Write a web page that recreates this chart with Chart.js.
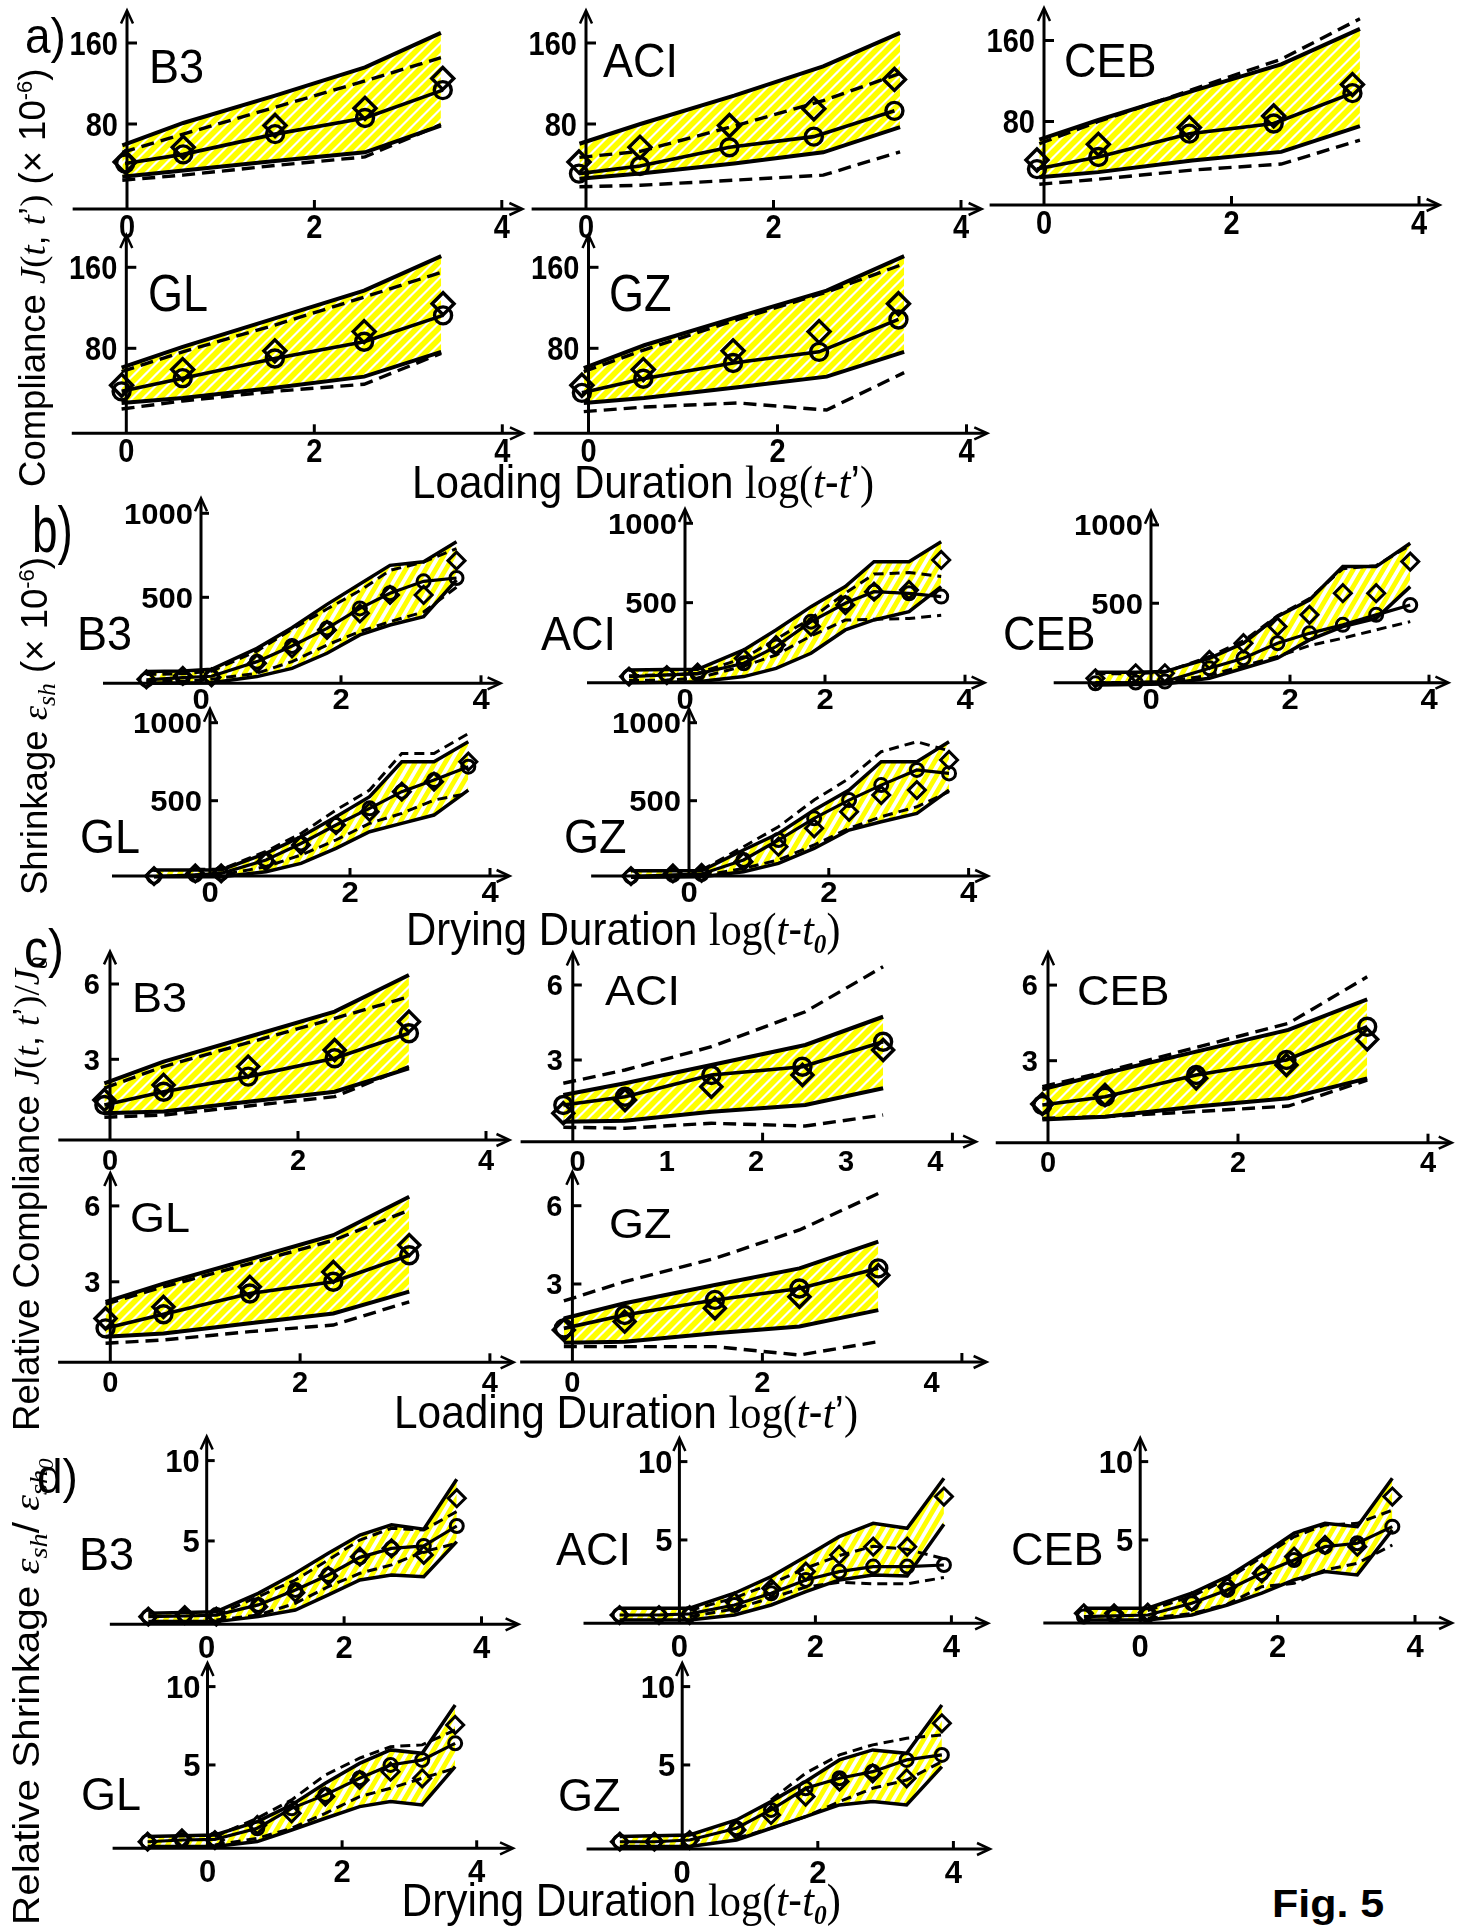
<!DOCTYPE html>
<html><head><meta charset="utf-8">
<script src="https://cdn.jsdelivr.net/npm/chart.js@4.4.1/dist/chart.umd.min.js"></script>
<style>
html,body{margin:0;padding:0;background:#fff;}
#root{position:relative;width:1457px;height:1929px;overflow:hidden;background:#fff;}
#root canvas{position:absolute;}
.t{position:absolute;left:0;top:0;white-space:nowrap;transform-origin:0 0;color:#000;font-family:'Liberation Sans',Arial,sans-serif;z-index:5;}
.s{font-family:'Liberation Serif','Times New Roman',serif;}
.i{font-family:'Liberation Serif','Times New Roman',serif;font-style:italic;}
</style></head><body><div id="root"></div>
<script>
// ================= DATA =================
// (a) Compliance J(t,t') (x10^-6) vs loading duration log(t-t')
const aB3_x = [-0.05, 0.6, 1.58, 2.54, 3.35];
const aB3_mx = [-0.02, 0.6, 1.58, 2.54, 3.37];
const aB3_hi = [59, 81, 108, 136, 170];
const aB3_lo = [28, 34, 43.5, 52, 78.5];
const aB3_dhi = [52, 70, 96.5, 122.5, 145.5];
const aB3_dlo = [24.5, 29.5, 39, 47.5, 79.5];
const aB3_circ = [41, 50, 70, 86, 113.5];
const aB3_diam = [42.5, 57, 78.5, 95.5, 125];

const aACI_x = [-0.07, 0.58, 1.58, 2.53, 3.35];
const aACI_mx = [-0.075, 0.576, 1.53, 2.43, 3.29];
const aACI_hi = [60.5, 80, 108, 137, 170];
const aACI_lo = [26, 31, 41, 52, 77];
const aACI_dhi = [47, 53, 78, 103, 130];
const aACI_dlo = [18, 19.5, 24.5, 29.5, 52.5];
const aACI_circ = [31, 38.5, 57, 67.5, 93];
const aACI_diam = [42.5, 57, 78.5, 95, 124];

const aCEB_x = [-0.05, 0.58, 1.58, 2.53, 3.37];
const aCEB_mx = [-0.075, 0.58, 1.55, 2.45, 3.29];
const aCEB_hi = [62, 81.5, 110, 136.5, 171.5];
const aCEB_lo = [25, 30, 41.5, 50, 75.5];
const aCEB_dhi = [58, 80, 111.5, 141.5, 181.5];
const aCEB_dlo = [18, 23, 32, 38, 61.5];
const aCEB_circ = [33, 45, 68, 78, 108];
const aCEB_diam = [42, 57.5, 74, 85.5, 116.5];

const aGL_x = [-0.05, 0.6, 1.58, 2.53, 3.35];
const aGL_mx = [-0.05, 0.6, 1.58, 2.53, 3.37];
const aGL_hi = [61, 81.5, 109.5, 137, 171];
const aGL_lo = [26, 31, 41, 52, 76.5];
const aGL_dhi = [57, 76.5, 103, 130.5, 155];
const aGL_dlo = [20, 28, 37.5, 44.5, 75];
const aGL_circ = [37.5, 50.5, 70, 86.5, 112.5];
const aGL_diam = [43.5, 59, 77.5, 96.5, 124];

const aGZ_x = [-0.05, 0.59, 1.58, 2.52, 3.34];
const aGZ_mx = [-0.07, 0.58, 1.53, 2.44, 3.28];
const aGZ_hi = [60.5, 83, 111, 137, 171];
const aGZ_lo = [26, 31, 41.5, 52, 76.5];
const aGZ_dhi = [57, 78.5, 108.5, 135.5, 163.5];
const aGZ_dlo = [17.5, 22, 26, 19, 56];
const aGZ_circ = [36, 50, 65.5, 76.5, 108.5];
const aGZ_diam = [43.5, 59, 77.5, 96.5, 124];

// (b) Shrinkage eps_sh (x10^-6) vs drying duration log(t-t0)
const bB3_x = [-0.78, -0.26, 0.15, 0.8, 1.3, 1.8, 2.27, 2.7, 3.18, 3.65];
const bB3_hi = [58, 62, 71, 196, 319, 458, 579, 690, 712, 831];
const bB3_lo = [-12, -10, -8, 28, 77, 167, 276, 335, 385, 603];
const bB3_dhi = [40, 45, 60, 180, 310, 430, 540, 660, 710, 790];
const bB3_dlo = [0, 0, 12, 48, 117, 216, 296, 355, 413, 560];
const bB3_circ = [8, 22, 30, 117, 210, 315, 434, 524, 595, 615];
const bB3_diam = [12, 32, 24, 107, 196, 306, 405, 514, 514, 718];

const bACI_x = [-0.8, -0.26, 0.18, 0.84, 1.3, 1.8, 2.29, 2.7, 3.2, 3.66];
const bACI_hi = [76, 78, 80, 202, 328, 475, 601, 758, 758, 884];
const bACI_lo = [-4, -2, 2, 34, 86, 181, 328, 391, 443, 601];
const bACI_dhi = [40, 45, 55, 150, 270, 400, 560, 680, 690, 665];
const bACI_dlo = [10, 12, 25, 100, 170, 290, 390, 395, 400, 420];
const bACI_circ = [34, 44, 51, 118, 223, 380, 496, 569, 559, 538];
const bACI_diam = [34, 44, 59, 149, 233, 349, 485, 569, 580, 769];

const bCEB_x = [-0.8, -0.22, 0.2, 0.84, 1.33, 1.82, 2.28, 2.76, 3.24, 3.73];
const bCEB_hi = [60, 60, 64, 149, 245, 415, 521, 734, 734, 883];
const bCEB_lo = [-21, -18, -15, 21, 85, 149, 266, 351, 404, 606];
const bCEB_dhi = [50, 50, 60, 160, 260, 420, 530, 720, 740, 870];
const bCEB_dlo = [-5, -5, 0, 40, 100, 160, 230, 277, 330, 383];
const bCEB_circ = [-11, -6, 0, 85, 149, 245, 308, 362, 426, 489];
const bCEB_diam = [21, 53, 53, 138, 245, 351, 426, 564, 564, 766];

const bGL_x = [-0.8, -0.21, 0.16, 0.8, 1.3, 1.8, 2.28, 2.74, 3.2, 3.69];
const bGL_hi = [56, 56, 56, 162, 269, 397, 526, 750, 750, 878];
const bGL_lo = [13, 13, 13, 45, 98, 194, 301, 355, 408, 568];
const bGL_dhi = [null, 60, 60, 175, 290, 440, 568, 803, 803, 930];
const bGL_dlo = [null, 24, 24, 77, 152, 248, 355, 419, 504, 547];
const bGL_circ = [13, 24, 34, 120, 226, 344, 451, 558, 632, 718];
const bGL_diam = [17, 34, 34, 109, 216, 344, 429, 558, 622, 750];

const bGZ_x = [-0.83, -0.23, 0.18, 0.78, 1.28, 1.79, 2.29, 2.75, 3.26, 3.72];
const bGZ_hi = [51, 51, 51, 184, 290, 440, 568, 750, 750, 878];
const bGZ_lo = [9, 11, 13, 45, 98, 194, 312, 365, 419, 568];
const bGZ_dhi = [null, null, 55, 205, 333, 504, 643, 814, 878, 820];
const bGZ_dlo = [null, null, 20, 66, 120, 216, 323, 397, 461, 558];
const bGZ_circ = [13, 24, 30, 120, 248, 387, 504, 600, 697, 675];
const bGZ_diam = [17, 34, 38, 109, 205, 323, 429, 536, 568, 761];

// (c) Relative compliance J(t,t')/J0 vs loading duration
const cB3_x = [-0.06, 0.57, 1.47, 2.39, 3.18];
const cB3_hi = [2.04, 2.91, 3.89, 4.9, 6.36];
const cB3_lo = [0.85, 0.92, 1.31, 1.71, 2.64];
const cB3_dhi = [1.85, 2.71, 3.66, 4.63, 5.49];
const cB3_dlo = [0.69, 0.78, 1.14, 1.51, 2.71];
const cB3_circ = [1.18, 1.71, 2.31, 3.04, 4.04];
const cB3_diam = [1.38, 1.98, 2.71, 3.37, 4.5];

const cACI_x = [-0.1, 0.55, 1.46, 2.45, 3.27];
const cACI_mx = [-0.1, 0.55, 1.46, 2.42, 3.27];
const cACI_hi = [1.6, 2.07, 2.8, 3.6, 4.73];
const cACI_lo = [0.53, 0.57, 0.93, 1.2, 1.87];
const cACI_dhi = [2.07, 2.6, 3.53, 4.93, 6.73];
const cACI_dlo = [0.31, 0.27, 0.47, 0.36, 0.8];
const cACI_circ = [1.2, 1.53, 2.4, 2.73, 3.73];
const cACI_diam = [0.87, 1.4, 1.93, 2.4, 3.4];

const cCEB_x = [-0.06, 0.6, 1.56, 2.53, 3.36];
const cCEB_mx = [-0.06, 0.6, 1.56, 2.51, 3.36];
const cCEB_hi = [1.86, 2.5, 3.36, 4.22, 5.43];
const cCEB_lo = [0.67, 0.78, 1.18, 1.51, 2.3];
const cCEB_dhi = [1.97, 2.56, 3.53, 4.48, 6.33];
const cCEB_dlo = [0.71, 0.78, 0.98, 1.2, 2.23];
const cCEB_circ = [1.24, 1.57, 2.43, 3.03, 4.35];
const cCEB_diam = [1.28, 1.64, 2.3, 2.83, 3.85];

const cGL_x = [-0.05, 0.56, 1.47, 2.35, 3.15];
const cGL_hi = [2.21, 2.93, 3.89, 4.84, 6.36];
const cGL_lo = [0.83, 0.96, 1.36, 1.75, 2.61];
const cGL_dhi = [2.12, 2.8, 3.72, 4.64, 5.83];
const cGL_dlo = [0.57, 0.7, 1.03, 1.29, 2.21];
const cGL_circ = [1.16, 1.72, 2.54, 3.0, 4.05];
const cGL_diam = [1.55, 2.01, 2.8, 3.39, 4.45];

const cGZ_x = [-0.09, 0.55, 1.5, 2.39, 3.22];
const cGZ_hi = [1.68, 2.26, 2.96, 3.6, 4.62];
const cGZ_lo = [0.75, 0.79, 1.11, 1.37, 2.0];
const cGZ_dhi = [2.35, 3.09, 3.98, 5.07, 6.47];
const cGZ_dlo = [0.6, 0.6, 0.6, 0.28, 0.79];
const cGZ_circ = [1.3, 1.81, 2.39, 2.83, 3.6];
const cGZ_diam = [1.24, 1.56, 2.07, 2.51, 3.34];

// (d) Relative shrinkage eps_sh/eps_sh0 vs drying duration
const dB3_x = [-0.85, -0.32, 0.14, 0.75, 1.29, 1.77, 2.23, 2.69, 3.16, 3.64];
const dB3_hi = [0.5, 0.55, 0.6, 1.74, 2.99, 4.23, 5.37, 6.0, 5.73, 8.84];
const dB3_lo = [-0.02, -0.02, -0.02, 0.29, 0.7, 1.64, 2.57, 2.88, 2.78, 4.96];
const dB3_dhi = [null, null, 0.39, 1.53, 2.57, 3.82, 5.06, 5.79, 5.68, 6.83];
const dB3_dlo = [null, null, 0.08, 0.39, 1.12, 2.16, 2.99, 3.51, 4.34, 4.85];
const dB3_circ = [0.29, 0.33, 0.39, 1.02, 1.95, 2.88, 3.98, 4.54, 4.69, 5.93];
const dB3_diam = [0.29, 0.39, 0.29, 0.91, 1.78, 2.82, 4.02, 4.54, 4.13, 7.66];

const dACI_x = [-0.88, -0.3, 0.15, 0.81, 1.35, 1.86, 2.35, 2.85, 3.35, 3.89];
const dACI_hi = [0.64, 0.64, 0.64, 1.6, 2.66, 3.94, 5.21, 6.06, 5.74, 8.94];
const dACI_lo = [-0.11, -0.11, -0.11, 0.21, 0.85, 1.7, 2.45, 2.77, 2.7, 6.0];
const dACI_dhi = [null, null, 0.5, 1.3, 2.2, 3.2, 4.0, 4.6, 4.4, 3.8];
const dACI_dlo = [null, null, 0.1, 0.6, 1.3, 2.0, 2.3, 2.2, 2.2, 2.6];
const dACI_circ = [0.21, 0.21, 0.28, 0.85, 1.6, 2.45, 2.98, 3.3, 3.3, 3.4];
const dACI_diam = [0.21, 0.21, 0.21, 1.06, 1.91, 2.98, 4.04, 4.57, 4.57, 7.77];

const dCEB_x = [-0.82, -0.38, 0.11, 0.75, 1.27, 1.77, 2.24, 2.69, 3.16, 3.67];
const dCEB_hi = [0.64, 0.64, 0.64, 1.6, 2.66, 4.04, 5.43, 6.06, 5.85, 8.94];
const dCEB_lo = [-0.11, -0.11, -0.11, 0.21, 0.85, 1.6, 2.45, 2.98, 2.77, 5.64];
const dCEB_dhi = [null, null, 0.5, 1.4, 2.5, 3.9, 5.2, 5.96, 6.06, 6.9];
const dCEB_dlo = [null, null, 0.0, 0.3, 0.9, 2.02, 2.23, 3.09, 3.51, 4.68];
const dCEB_circ = [0.11, 0.15, 0.21, 0.96, 1.81, 2.87, 3.72, 4.57, 4.79, 5.85];
const dCEB_diam = [0.32, 0.32, 0.36, 1.06, 2.02, 2.87, 3.94, 4.68, 4.57, 7.77];

const dGL_x = [-0.89, -0.38, 0.11, 0.74, 1.25, 1.75, 2.26, 2.72, 3.19, 3.68];
const dGL_hi = [0.43, 0.48, 0.53, 1.38, 2.45, 3.83, 5.1, 5.96, 5.74, 8.83];
const dGL_lo = [-0.21, -0.21, -0.21, 0.11, 0.85, 1.6, 2.34, 2.66, 2.45, 4.89];
const dGL_dhi = [null, null, 0.43, 1.6, 2.77, 4.36, 5.43, 6.17, 6.28, 7.23];
const dGL_dlo = [null, null, -0.1, 0.32, 0.96, 1.91, 2.98, 3.51, 4.15, 4.79];
const dGL_circ = [0.1, 0.21, 0.25, 0.96, 2.23, 3.09, 4.15, 5.0, 5.32, 6.38];
const dGL_diam = [0.1, 0.32, 0.21, 1.17, 1.91, 2.98, 4.04, 4.57, 4.15, 7.55];

const dGZ_x = [-0.92, -0.41, 0.11, 0.8, 1.31, 1.82, 2.32, 2.81, 3.31, 3.83];
const dGZ_hi = [0.43, 0.48, 0.53, 1.49, 2.66, 3.94, 5.32, 5.96, 5.74, 8.83];
const dGZ_lo = [-0.21, -0.21, -0.21, 0.21, 0.96, 1.7, 2.45, 2.66, 2.45, 4.89];
const dGZ_dhi = [null, null, null, null, 2.77, 4.47, 5.64, 6.28, 6.7, 6.91];
const dGZ_dlo = [null, null, null, 0.32, 0.96, 1.7, 2.66, 3.51, 4.04, 5.21];
const dGZ_circ = [0.1, 0.1, 0.21, 0.96, 2.13, 3.51, 4.15, 4.57, 5.32, 5.64];
const dGZ_diam = [0.1, 0.1, 0.21, 0.85, 1.81, 2.98, 3.94, 4.47, 4.15, 7.66];

// tick values / labels
const aYTicks = [80, 160], bYTicks = [500, 1000], cYTicks = [3, 6], dYTicks = [5, 10];
const xTickVals = [2, 4];
const xLabelVals = [0, 2, 4];
const xLabelTexts = ['0', '2', '4'];
const cACI_xLabelTexts = ['0', '1', '2', '3', '4'];
const cACI_xLabelVals = [0.05, 0.99, 1.93, 2.88, 3.82];
const cGZ_xLabelVals = [0, 2, 3.78];

// ================= STYLES / LAYOUT =================
const SEC = {
  a: {xStart:-0.58, xEnd:4.22, yTop:192, yTicks:aYTicks, font:29, sy:1.15, xLabOff:5, yLabGap:9, yTickLen:10, xTickLen:9,
      lwB:4, lwC:3.6, lwD:3.4, dash:[13,7], rC:8.5, rD:11, mbw:3.4, pat:[11,11,5.6], nameSy:1.08},
  b: {xStart:-1.4, xEnd:4.28, yTop:1090, yTicks:bYTicks, font:31, sy:0.95, xLabOff:5, yLabGap:8, yTickLen:8, xTickLen:8,
      lwB:3.5, lwC:3.2, lwD:3, dash:[10,6], rC:6.5, rD:8.5, mbw:3, pat:[10,17,4.8], nameSy:1.05},
  c: {xStart:-0.55, xEnd:4.25, yTop:7.3, yTicks:cYTicks, font:29, sy:1.0, xLabOff:9, yLabGap:10, yTickLen:9, xTickLen:9,
      lwB:4, lwC:3.6, lwD:3.4, dash:[13,7], rC:8.5, rD:10.5, mbw:3.4, pat:[11,11,5.6], nameSy:0.93},
  d: {xStart:-1.41, xEnd:4.54, yTop:11.5, yTicks:dYTicks, font:31, sy:1.0, xLabOff:12, yLabGap:7, yTickLen:8, xTickLen:8,
      lwB:3.5, lwC:3.2, lwD:3, dash:[10,6], rC:6.5, rD:8.5, mbw:3, pat:[10,17,4.8], nameSy:1.02}
};

const panels = [
  {sec:'a', name:'B3', nx:149, nb:83, ox:127, oy:205, ux:93.7, uy:1.0125, ay:209, x:aB3_x, mx:aB3_mx, hi:aB3_hi, lo:aB3_lo, dhi:aB3_dhi, dlo:aB3_dlo, circ:aB3_circ, diam:aB3_diam},
  {sec:'a', name:'ACI', nx:603, nb:77, ox:586, oy:205, ux:93.75, uy:1.0125, ay:209, x:aACI_x, mx:aACI_mx, hi:aACI_hi, lo:aACI_lo, dhi:aACI_dhi, dlo:aACI_dlo, circ:aACI_circ, diam:aACI_diam},
  {sec:'a', name:'CEB', nx:1064, nb:77, ox:1044, oy:202.5, ux:93.75, uy:1.0125, ay:205, x:aCEB_x, mx:aCEB_mx, hi:aCEB_hi, lo:aCEB_lo, dhi:aCEB_dhi, dlo:aCEB_dlo, circ:aCEB_circ, diam:aCEB_diam},
  {sec:'a', name:'GL', nx:148, nb:311, nsy:1.15, ox:126.3, oy:429.3, ux:94, uy:1.0125, ay:433.3, x:aGL_x, mx:aGL_mx, hi:aGL_hi, lo:aGL_lo, dhi:aGL_dhi, dlo:aGL_dlo, circ:aGL_circ, diam:aGL_diam},
  {sec:'a', name:'GZ', nx:609, nb:311, nsy:1.15, ox:588.5, oy:429.3, ux:94.5, uy:1.0125, ay:433.3, x:aGZ_x, mx:aGZ_mx, hi:aGZ_hi, lo:aGZ_lo, dhi:aGZ_dhi, dlo:aGZ_dlo, circ:aGZ_circ, diam:aGZ_diam},

  {sec:'b', name:'B3', nx:77, nb:650, ox:201, oy:681.3, ux:70, uy:0.168, ay:683.3, x:bB3_x, hi:bB3_hi, lo:bB3_lo, dhi:bB3_dhi, dlo:bB3_dlo, circ:bB3_circ, diam:bB3_diam},
  {sec:'b', name:'ACI', nx:541, nb:650, ox:685, oy:682, ux:70, uy:0.1587, ay:682.7, x:bACI_x, hi:bACI_hi, lo:bACI_lo, dhi:bACI_dhi, dlo:bACI_dlo, circ:bACI_circ, diam:bACI_diam},
  {sec:'b', name:'CEB', nx:1003, nb:650, ox:1151, oy:681.6, ux:69.5, uy:0.1567, ay:682.7, x:bCEB_x, hi:bCEB_hi, lo:bCEB_lo, dhi:bCEB_dhi, dlo:bCEB_dlo, circ:bCEB_circ, diam:bCEB_diam},
  {sec:'b', name:'GL', nx:80, nb:853, ox:210, oy:878.7, ux:70, uy:0.156, ay:876, x:bGL_x, hi:bGL_hi, lo:bGL_lo, dhi:bGL_dhi, dlo:bGL_dlo, circ:bGL_circ, diam:bGL_diam},
  {sec:'b', name:'GZ', nx:564, nb:853, ox:689, oy:878.7, ux:69.9, uy:0.156, ay:876, x:bGZ_x, hi:bGZ_hi, lo:bGZ_lo, dhi:bGZ_dhi, dlo:bGZ_dlo, circ:bGZ_circ, diam:bGZ_diam},

  {sec:'c', name:'B3', nx:132, nb:1012, ox:110, oy:1134.6, ux:94, uy:25.1, ay:1140, x:cB3_x, hi:cB3_hi, lo:cB3_lo, dhi:cB3_dhi, dlo:cB3_dlo, circ:cB3_circ, diam:cB3_diam},
  {sec:'c', name:'ACI', nx:605, nb:1005, ox:572.8, oy:1135, ux:94.9, uy:25, ay:1141.7, x:cACI_x, mx:cACI_mx, hi:cACI_hi, lo:cACI_lo, dhi:cACI_dhi, dlo:cACI_dlo, circ:cACI_circ, diam:cACI_diam, xLabels:cACI_xLabelTexts, xLabelVals:cACI_xLabelVals},
  {sec:'c', name:'CEB', nx:1077, nb:1005, ox:1048, oy:1136.3, ux:95, uy:25.2, ay:1142.7, x:cCEB_x, mx:cCEB_mx, hi:cCEB_hi, lo:cCEB_lo, dhi:cCEB_dhi, dlo:cCEB_dlo, circ:cCEB_circ, diam:cCEB_diam},
  {sec:'c', name:'GL', nx:130, nb:1232, ox:110.3, oy:1357.7, ux:94.9, uy:25.3, ay:1362.3, x:cGL_x, hi:cGL_hi, lo:cGL_lo, dhi:cGL_dhi, dlo:cGL_dlo, circ:cGL_circ, diam:cGL_diam},
  {sec:'c', name:'GZ', nx:609, nb:1238, ox:572.4, oy:1362.3, ux:95, uy:26.1, ay:1362, x:cGZ_x, hi:cGZ_hi, lo:cGZ_lo, dhi:cGZ_dhi, dlo:cGZ_dlo, circ:cGZ_circ, diam:cGZ_diam, xLabelVals:cGZ_xLabelVals, xTicks:[2, 4.1], xEnd:4.36},

  {sec:'d', name:'B3', nx:79, nb:1570, ox:206.7, oy:1621.3, ux:68.7, uy:16.07, ay:1624.3, x:dB3_x, hi:dB3_hi, lo:dB3_lo, dhi:dB3_dhi, dlo:dB3_dlo, circ:dB3_circ, diam:dB3_diam},
  {sec:'d', name:'ACI', nx:556, nb:1565, ox:679.4, oy:1618.3, ux:68, uy:15.67, ay:1623.3, x:dACI_x, hi:dACI_hi, lo:dACI_lo, dhi:dACI_dhi, dlo:dACI_dlo, circ:dACI_circ, diam:dACI_diam},
  {sec:'d', name:'CEB', nx:1011, nb:1565, ox:1140.2, oy:1618.3, ux:68.7, uy:15.67, ay:1623, x:dCEB_x, hi:dCEB_hi, lo:dCEB_lo, dhi:dCEB_dhi, dlo:dCEB_dlo, circ:dCEB_circ, diam:dCEB_diam},
  {sec:'d', name:'GL', nx:81, nb:1810, ox:207.5, oy:1843.3, ux:67.3, uy:15.67, ay:1848.3, x:dGL_x, hi:dGL_hi, lo:dGL_lo, dhi:dGL_dhi, dlo:dGL_dlo, circ:dGL_circ, diam:dGL_diam},
  {sec:'d', name:'GZ', nx:558, nb:1811, ox:682.2, oy:1843.3, ux:67.8, uy:15.67, ay:1849, x:dGZ_x, hi:dGZ_hi, lo:dGZ_lo, dhi:dGZ_dhi, dlo:dGZ_dlo, circ:dGZ_circ, diam:dGZ_diam}
];

// ================= HELPERS =================
const root = document.getElementById('root');
const SANS = "'Liberation Sans', Arial, sans-serif";

function addText(html, x, base, size, o) {
  o = o || {};
  const d = document.createElement('div');
  d.className = 't'; d.innerHTML = html;
  d.style.fontSize = size + 'px'; d.style.lineHeight = size + 'px';
  if (o.weight) d.style.fontWeight = o.weight;
  root.appendChild(d);
  const w = d.offsetWidth;
  const sx = o.width ? o.width / w : (o.sx || 1), sy = o.sy || 1;
  let left = x;
  if (o.align === 'center') left = x - w * sx / 2;
  const top = base - 0.8465 * size * sy;
  d.style.transform = 'translate(' + left + 'px,' + top + 'px) scale(' + sx + ',' + sy + ')';
  return d;
}
function addVText(html, cx, cy, size, len, o) {
  o = o || {};
  const d = document.createElement('div');
  d.className = 't'; d.innerHTML = html;
  d.style.fontSize = size + 'px'; d.style.lineHeight = size + 'px';
  root.appendChild(d);
  const w = d.offsetWidth;
  const sx = len / w, sy = o.sy || 1;
  d.style.transform = 'translate(' + cx + 'px,' + cy + 'px) rotate(-90deg) scale(' + sx + ',' + sy + ') translate(' + (-w / 2) + 'px,' + (-size * 0.5) + 'px)';
  return d;
}
function makeTile(w, h, lw) {
  const c = document.createElement('canvas'); c.width = w; c.height = h;
  const g = c.getContext('2d');
  g.fillStyle = '#ffffff'; g.fillRect(0, 0, w, h);
  g.strokeStyle = '#ffff00'; g.lineWidth = lw;
  for (let k = -1; k <= 1; k++) {
    g.beginPath(); g.moveTo(k * w - w, 2 * h); g.lineTo(k * w + 2 * w, -h); g.stroke();
  }
  return c;
}
function pts(xs, ys) { return xs.map((x, i) => ({x: x, y: ys[i]})); }

function axesPlugin(o) {
  return {
    id: 'arrowAxes',
    afterDatasetsDraw(chart) {
      const ctx = chart.ctx, xs = chart.scales.x, ys = chart.scales.y;
      const X = v => xs.getPixelForValue(v), Y = v => ys.getPixelForValue(v);
      const ay = Y(o.axisY), ax = X(0);
      ctx.save();
      ctx.strokeStyle = '#000'; ctx.fillStyle = '#000'; ctx.lineWidth = 3; ctx.lineCap = 'butt'; ctx.lineJoin = 'miter';
      const x0 = X(o.xStart), x1 = X(o.xEnd), yt = Y(o.yTop);
      ctx.beginPath(); ctx.moveTo(x0, ay); ctx.lineTo(x1 - 2, ay); ctx.stroke();
      ctx.beginPath(); ctx.moveTo(ax, ay); ctx.lineTo(ax, yt + 2); ctx.stroke();
      ctx.lineWidth = 2.5;
      ctx.beginPath(); ctx.moveTo(x1 - 13, ay - 6); ctx.lineTo(x1, ay); ctx.lineTo(x1 - 13, ay + 6); ctx.stroke();
      ctx.beginPath(); ctx.moveTo(ax - 6, yt + 13); ctx.lineTo(ax, yt); ctx.lineTo(ax + 6, yt + 13); ctx.stroke();
      ctx.lineWidth = 3;
      o.xTicks.forEach(v => { ctx.beginPath(); ctx.moveTo(X(v), ay); ctx.lineTo(X(v), ay - o.xTickLen); ctx.stroke(); });
      o.yTicks.forEach(v => { ctx.beginPath(); ctx.moveTo(ax, Y(v)); ctx.lineTo(ax + o.yTickLen, Y(v)); ctx.stroke(); });
      ctx.font = 'bold ' + o.font + 'px ' + SANS;
      const capH = 0.716 * o.font * o.sy;
      const drawS = (t, x, base) => { ctx.save(); ctx.translate(x, base); ctx.scale(1, o.sy); ctx.fillText(t, 0, 0); ctx.restore(); };
      ctx.textAlign = 'center'; ctx.textBaseline = 'alphabetic';
      o.xLabels.forEach((t, i) => drawS(t, X(o.xLabelVals[i]), ay + o.xLabOff + capH));
      ctx.textAlign = 'right';
      o.yTicks.forEach(v => drawS(String(v), ax - o.yLabGap, Y(v) + capH / 2));
      ctx.restore();
    }
  };
}

// ================= BUILD PANELS =================
panels.forEach(p => {
  const S = SEC[p.sec];
  const xEnd = p.xEnd || S.xEnd;
  const left = Math.round(p.ox - 118);
  const right = Math.round(p.ox + p.ux * xEnd + 28);
  const top = Math.round(p.oy - S.yTop * p.uy - 26);
  const bottom = Math.round(p.ay + 58);
  const W = right - left, H = bottom - top;
  const cv = document.createElement('canvas');
  cv.width = W; cv.height = H;
  cv.style.left = left + 'px'; cv.style.top = top + 'px';
  cv.style.width = W + 'px'; cv.style.height = H + 'px';
  root.appendChild(cv);
  const pattern = cv.getContext('2d').createPattern(makeTile(S.pat[0], S.pat[1], S.pat[2]), 'repeat');
  const mx = p.mx || p.x;
  const opts = {
    axisY: (p.oy - p.ay) / p.uy, xStart: S.xStart, xEnd: xEnd, yTop: S.yTop,
    xTicks: p.xTicks || xTickVals, yTicks: S.yTicks,
    xLabels: p.xLabels || xLabelTexts, xLabelVals: p.xLabelVals || xLabelVals,
    font: S.font, sy: S.sy, xLabOff: S.xLabOff, yLabGap: S.yLabGap, yTickLen: S.yTickLen, xTickLen: S.xTickLen
  };
  const common = {tension: 0, spanGaps: false, borderColor: '#000', pointBorderColor: '#000', pointBackgroundColor: 'rgba(0,0,0,0)', borderCapStyle: 'butt', clip: false};
  const chart = new Chart(cv, {
    type: 'line',
    data: {datasets: [
      Object.assign({}, common, {data: pts(mx, p.diam), showLine: false, pointStyle: 'rectRot', pointRadius: S.rD, pointBorderWidth: S.mbw, fill: false}),
      Object.assign({}, common, {data: pts(mx, p.circ), showLine: true, borderWidth: S.lwC, pointStyle: 'circle', pointRadius: S.rC, pointBorderWidth: S.mbw, fill: false}),
      Object.assign({}, common, {data: pts(p.x, p.dhi), borderWidth: S.lwD, borderDash: S.dash, pointRadius: 0, fill: false}),
      Object.assign({}, common, {data: pts(p.x, p.dlo), borderWidth: S.lwD, borderDash: S.dash, pointRadius: 0, fill: false}),
      Object.assign({}, common, {data: pts(p.x, p.lo), borderWidth: S.lwB, pointRadius: 0, fill: false}),
      Object.assign({}, common, {data: pts(p.x, p.hi), borderWidth: S.lwB, pointRadius: 0, fill: '-1', backgroundColor: pattern})
    ]},
    options: {
      responsive: false, maintainAspectRatio: false, animation: false, devicePixelRatio: 1, events: [],
      layout: {padding: 0},
      plugins: {legend: {display: false}, tooltip: {enabled: false}, title: {display: false}},
      scales: {
        x: {type: 'linear', display: false, min: (left - p.ox) / p.ux, max: (right - p.ox) / p.ux},
        y: {type: 'linear', display: false, min: (p.oy - bottom) / p.uy, max: (p.oy - top) / p.uy}
      }
    },
    plugins: [axesPlugin(opts)]
  });
  // match scale ranges to the real chart area so that the pixel mapping is exact
  const ca = chart.chartArea;
  chart.options.scales.x.min = (left + ca.left - p.ox) / p.ux;
  chart.options.scales.x.max = (left + ca.right - p.ox) / p.ux;
  chart.options.scales.y.max = (p.oy - (top + ca.top)) / p.uy;
  chart.options.scales.y.min = (p.oy - (top + ca.bottom)) / p.uy;
  chart.update('none');
  addText(p.name, p.nx, p.nb, 45, {sy: p.nsy || S.nameSy});
});

// ================= TEXT =================
addText('a)', 25, 53, 46, {sy: 1.1});
addText('b)', 32, 552, 46, {sy: 1.4});
addText('c)', 24, 968, 48, {sy: 1.1});
addText('d)', 37, 1493, 46, {sy: 1.05});

const loadT = 'Loading Duration <span class="s">log(</span><span class="i">t</span>-<span class="i">t</span>’<span class="s">)</span>';
const dryT = 'Drying Duration <span class="s">log(</span><span class="i">t</span>-<span class="i">t</span><sub style="font-size:0.6em;vertical-align:-0.3em"><b class="i">0</b></sub><span class="s">)</span>';
addText(loadT, 643, 498, 40, {align: 'center', width: 462, sy: 1.15});
addText(dryT, 623, 945, 40, {align: 'center', width: 434, sy: 1.15});
addText(loadT, 626, 1428, 40, {align: 'center', width: 464, sy: 1.15});
addText(dryT, 621, 1916, 40, {align: 'center', width: 439, sy: 1.15});
addText('Fig. 5', 1272, 1917, 38, {weight: 'bold', width: 112});

addVText('Compliance <span class="i">J</span><span class="s">(</span><span class="i">t</span>, <span class="i">t</span>’<span class="s">)</span> (× 10<sup style="font-size:0.6em">-6</sup>)', 25, 278, 36, 418);
addVText('Shrinkage <span class="i">ε<sub style="font-size:0.7em">sh</sub></span> (× 10<sup style="font-size:0.6em">-6</sup>)', 27, 726, 36, 338);
addVText('Relative Compliance <span class="i">J</span><span class="s">(</span><span class="i">t</span>, <span class="i">t</span>’<span class="s">)/</span><span class="i">J<sub style="font-size:0.65em">0</sub></span>', 27, 1194, 36, 474);
addVText('Relative Shrinkage <span class="i">ε<sub style="font-size:0.7em">sh</sub></span>/ <span class="i">ε<sub style="font-size:0.7em">sh<sub style="font-size:0.8em">0</sub></sub></span>', 27, 1692, 36, 466);
</script></body></html>
